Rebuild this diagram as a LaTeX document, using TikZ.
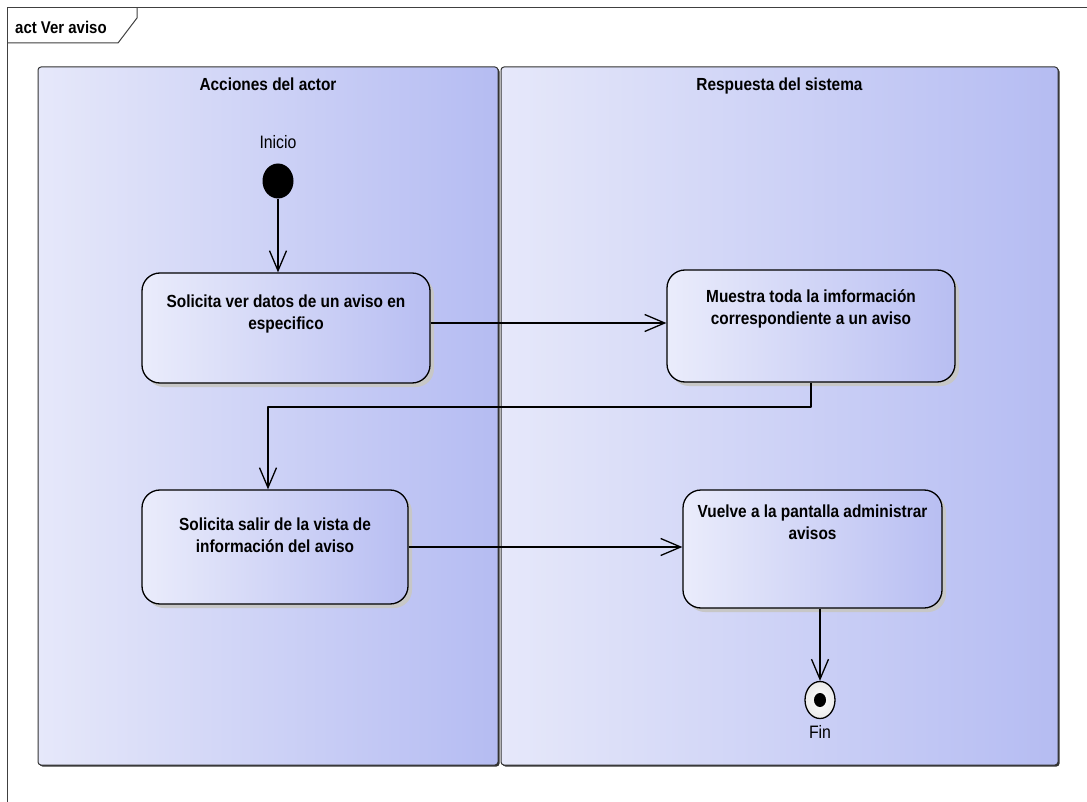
\documentclass[tikz,border=0pt]{standalone}
\usepackage{fontspec}
\setmainfont{Liberation Sans}[FakeStretch=0.88]
\usetikzlibrary{arrows.meta,positioning,shapes.geometric,shadows}
\definecolor{laneclaro}{RGB}{230,232,250}
\definecolor{laneoscuro}{RGB}{181,188,242}
\definecolor{cajaclaro}{RGB}{234,236,251}
\definecolor{cajaoscuro}{RGB}{184,190,242}
% texto de una accion: ancho, alto, margen superior, texto
\newcommand{\acttxt}[4]{\parbox[c][#2pt][t]{#1pt}{\centering\vspace*{#3pt}#4}}

\begin{document}
\begin{tikzpicture}[x=1pt,y=-1pt,line join=round,>={Straight Barb[length=20pt,width=17pt]}]
	\tikzset{
		marco/.style={draw=black!75,line width=1pt},
		lane/.style={draw=black!80,line width=1pt,rounded corners=3pt,inner sep=0pt,
			left color=laneclaro,right color=laneoscuro,
			drop shadow={shadow xshift=1.5pt,shadow yshift=-1.5pt,fill=black!80,opacity=1}},
		actbox/.style={draw=black,line width=1.3pt,rounded corners=18pt,inner sep=0pt,
			left color=cajaclaro,right color=cajaoscuro,
			drop shadow={shadow xshift=4pt,shadow yshift=-4pt,fill=black!22,opacity=1},
			font=\bfseries\fontsize{17.5}{22}\selectfont},
		titulo/.style={inner sep=0pt,anchor=base,font=\bfseries\fontsize{17.5}{22}\selectfont},
		etiqueta/.style={inner sep=0pt,font=\fontsize{18}{20}\selectfont},
		nodoini/.style={ellipse,fill=black,minimum width=31pt,minimum height=35pt,inner sep=0pt},
		nodofin/.style={ellipse,draw=black,line width=1.3pt,inner color=white,outer color=black!8,
			minimum width=30pt,minimum height=37pt,inner sep=0pt,
			path picture={\fill[black] (path picture bounding box.center) ellipse (6pt and 7pt);}},
		flujo/.style={->,line width=1.3pt}
	}
	\useasboundingbox (0,0) rectangle (1087,802);
	\fill[white] (0,0) rectangle (1087,802);
	% marco del diagrama
	\draw[marco] (1087,8) -- (7,8) -- (7,802);
	\draw[marco] (7,43) -- (118,43) -- (137,18) -- (137,8);
	\node[inner sep=0pt,anchor=base west,font=\bfseries\fontsize{17}{20}\selectfont] (nombre) at (15,33.5) {act Ver aviso};
	% calles
	\node[lane,minimum width=460pt,minimum height=698pt] (actor) at (268,416) {};
	\node[lane,minimum width=557pt,minimum height=698pt] (sistema) at (779.5,416) {};
	\node[titulo] (tituloActor) at ([yshift=-24.5pt]actor.north) {Acciones del actor};
	\node[titulo] (tituloSistema) at ([yshift=-24.5pt]sistema.north) {Respuesta del sistema};
	% nodos
	\node[nodoini] (ini) at (278,181) {};
	\node[etiqueta,above=14.5pt of ini] (iniTxt) {Inicio};
	\node[actbox] (solicita) at (286,328) {\acttxt{288}{110}{22}{Solicita ver datos de un aviso en\\ especifico}};
	\node[actbox] (muestra) at (811,326) {\acttxt{288}{112}{20}{Muestra toda la imformación\\ correspondiente a un aviso}};
	\node[actbox] (salir) at (275,547) {\acttxt{266}{114}{28}{Solicita salir de la vista de\\ información del aviso}};
	\node[actbox] (vuelve) at (812.5,549) {\acttxt{259}{118}{15}{Vuelve a la pantalla administrar\\ avisos}};
	\node[nodofin] (fin) at (820,700) {};
	\node[etiqueta,below=6pt of fin] (finTxt) {Fin};
	% flujos
	\coordinate (codo) at (268,407);
	\draw[flujo] (ini) -- (ini |- solicita.north);
	\draw[flujo] ([yshift=5pt]solicita.east) -- ([yshift=5pt]solicita.east -| muestra.west);
	\draw[flujo] (muestra.south) |- (codo) -- (codo |- salir.north);
	\draw[flujo] (salir.east) -- (salir.east -| vuelve.west);
	\draw[flujo] (vuelve.south -| fin) -- (fin);
\end{tikzpicture}
\end{document}
